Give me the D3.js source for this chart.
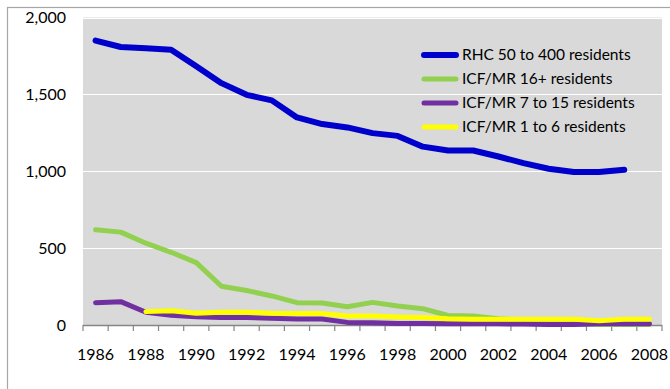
<!DOCTYPE html>
<html>
<head>
<meta charset="utf-8">
<script src="https://cdn.jsdelivr.net/npm/d3@7"></script>
<style>
  html, body { margin: 0; padding: 0; background: #fff; }
  svg { display: block; font-family: Lato, "Open Sans", sans-serif; }
</style>
</head>
<body>
<svg id="chart" width="670" height="389"></svg>
<script>
// Residents by facility type, 1986–2008
const years = d3.range(1986, 2009);
const seriesNames = [
  "RHC 50 to 400 residents",
  "ICF/MR 16+ residents",
  "ICF/MR 7 to 15 residents",
  "ICF/MR 1 to 6 residents"
];
const seriesColors = ["#0000cc", "#92d050", "#7030a0", "#ffff00"];
const rhc = [1850, 1808, 1800, 1790, 1683, 1573, 1497, 1461, 1350, 1307, 1285, 1248, 1230, 1160, 1135, 1135, 1096, 1053, 1016, 995, 995, 1010, null];
const icf16 = [619, 604, 532, 473, 406, 252, 224, 189, 145, 143, 119, 147, 124, 106, 62, 58, 40, 30, 12, 12, 4, 4, 4];
const icf7to15 = [145, 152, 83, 63, 54, 48, 48, 44, 39, 39, 17, 15, 10, 10, 8, 8, 8, 6, 3, 3, 8, 8, 8];
const icf1to6 = [null, null, 87, 93, 76, 83, 83, 76, 74, 74, 59, 59, 52, 48, 40, 38, 38, 38, 38, 37, 28, 37, 37];
const seriesValues = [rhc, icf16, icf7to15, icf1to6];
const yTicks = [0, 500, 1000, 1500, 2000];
const xLabelYears = years.filter(y => (y - 1986) % 2 === 0);

const svg = d3.select("#chart");
const plotLeft = 83, plotRight = 662, plotTop = 17.5, plotBottom = 325;

// outer chart frame
svg.append("rect")
  .attr("x", 7.5).attr("y", 7.5)
  .attr("width", 700).attr("height", 400)
  .attr("fill", "#fff").attr("stroke", "#a6a6a6").attr("stroke-width", 1.2);

const x = d3.scaleBand().domain(years).range([plotLeft, plotRight]).padding(0);
const y = d3.scaleLinear().domain([0, 2000]).range([plotBottom, plotTop]);

// plot area
svg.append("rect")
  .attr("x", plotLeft).attr("y", plotTop)
  .attr("width", plotRight - plotLeft).attr("height", plotBottom - plotTop)
  .attr("fill", "#d9d9d9");

// horizontal gridlines
svg.append("g").selectAll("line")
  .data(yTicks.filter(d => d > 0))
  .join("line")
  .attr("x1", plotLeft).attr("x2", plotRight)
  .attr("y1", d => Math.round(y(d)) + 0.5).attr("y2", d => Math.round(y(d)) + 0.5)
  .attr("stroke", "#ffffff").attr("stroke-width", 1.2);

// y axis labels
const yAxis = d3.axisLeft(y).tickValues(yTicks).tickSize(0).tickPadding(17)
  .tickFormat(d3.format(","));
const gy = svg.append("g").attr("transform", `translate(${plotLeft},0)`).call(yAxis);
gy.select(".domain").remove();
gy.selectAll("text").attr("font-size", 16).attr("fill", "#000")
  .attr("font-family", "Lato, sans-serif");

// x axis: category axis, ticks between categories
const gx = svg.append("g").attr("transform", `translate(0,${plotBottom})`);
gx.append("line")
  .attr("x1", plotLeft).attr("x2", plotRight).attr("y1", 0.5).attr("y2", 0.5)
  .attr("stroke", "#868686").attr("stroke-width", 1.5);
const boundaries = years.map(d => x(d)).concat([plotRight]);
gx.selectAll("line.tick")
  .data(boundaries)
  .join("line").attr("class", "tick")
  .attr("x1", d => d).attr("x2", d => d)
  .attr("y1", 0).attr("y2", 6)
  .attr("stroke", "#868686").attr("stroke-width", 1.2);
gx.selectAll("text")
  .data(xLabelYears)
  .join("text")
  .attr("x", d => x(d) + x.bandwidth() / 2)
  .attr("y", 35)
  .attr("text-anchor", "middle")
  .attr("font-size", 16)
  .attr("fill", "#000")
  .text(d => d);

// series lines
const line = d3.line()
  .defined(d => d.v != null)
  .x(d => x(d.year) + x.bandwidth() / 2)
  .y(d => y(d.v));

const widths = [6, 5, 5, 5];
seriesValues.forEach((vals, i) => {
  svg.append("path")
    .datum(years.map((yr, j) => ({ year: yr, v: vals[j] })))
    .attr("d", line)
    .attr("fill", "none")
    .attr("stroke", seriesColors[i])
    .attr("stroke-width", widths[i])
    .attr("stroke-linejoin", "round")
    .attr("stroke-linecap", "round");
});

// legend
const legend = svg.append("g").attr("transform", "translate(422,55)");
const rows = legend.selectAll("g").data(seriesNames).join("g")
  .attr("transform", (d, i) => `translate(0,${i * 24})`);
rows.append("line")
  .attr("x1", 2).attr("x2", 34).attr("y1", 0).attr("y2", 0)
  .attr("stroke", (d, i) => seriesColors[i])
  .attr("stroke-width", (d, i) => widths[i])
  .attr("stroke-linecap", "round");
rows.append("text")
  .attr("x", 40).attr("y", 0).attr("dy", "0.35em")
  .attr("font-size", 15.5).attr("fill", "#000")
  .text(d => d);
</script>
</body>
</html>
